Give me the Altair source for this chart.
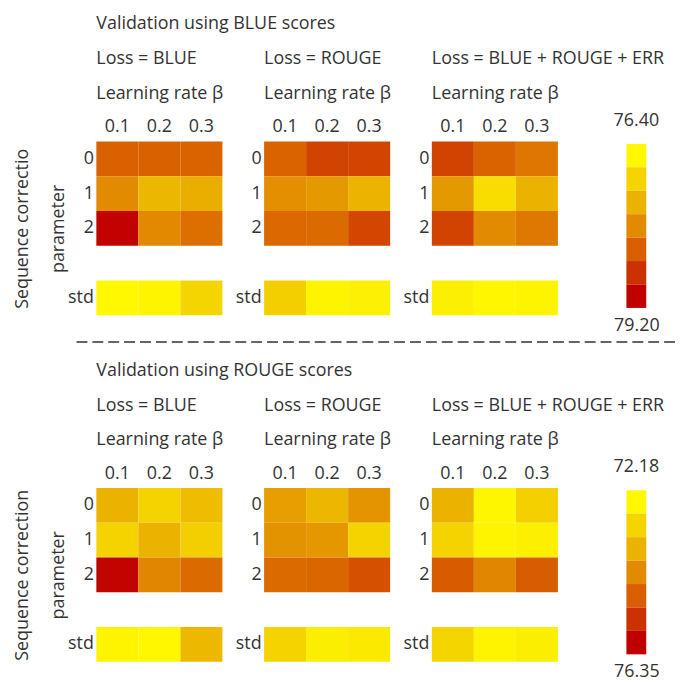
import altair as alt
import numpy as np
import pandas as pd

# ---------------- data ----------------
lr_values = ["0.1", "0.2", "0.3"]
row_values = ["0", "1", "2", "std"]
y_domain = ["0", "1", "2", " ", "std"]          # " " is the empty gap row
loss_titles = ["Loss = BLUE", "Loss = ROUGE", "Loss = BLUE + ROUGE + ERR"]
section_titles = ["Validation using BLUE scores", "Validation using ROUGE scores"]
y_titles = [["Sequence correctio", "parameter"], ["Sequence correction", "parameter"]]
scale_ends = [[76.40, 79.20], [72.18, 76.35]]
scale_labels = [["76.40", "79.20"], ["72.18", "76.35"]]
palette = ["#FFF800", "#F5D400", "#EBB200", "#E28B00", "#D95F00", "#CC3100", "#C00000"]

# Validation using BLUE scores (rows 0, 1, 2, std; columns lr 0.1, 0.2, 0.3)
blue_loss_blue = [[78.25, 78.25, 78.22], [77.80, 77.27, 77.38], [79.18, 77.82, 78.10], [76.40, 76.45, 76.85]]
blue_loss_rouge = [[78.22, 78.55, 78.53], [77.75, 77.63, 77.30], [78.17, 78.15, 78.52], [76.93, 76.45, 76.50]]
blue_loss_all = [[78.55, 78.22, 78.02], [77.63, 76.74, 77.33], [78.55, 77.80, 78.00], [76.52, 76.42, 76.45]]

# Validation using ROUGE scores
rouge_loss_blue = [[73.57, 72.89, 73.35], [72.89, 73.55, 73.00], [76.30, 74.35, 74.77], [72.25, 72.20, 73.45]]
rouge_loss_rouge = [[73.93, 73.47, 74.10], [74.12, 74.05, 72.90], [74.78, 74.85, 75.18], [72.89, 72.38, 72.45]]
rouge_loss_all = [[73.55, 72.22, 72.95], [72.89, 72.25, 72.35], [75.02, 74.35, 75.00], [72.85, 72.25, 72.38]]

sections = [
    [blue_loss_blue, blue_loss_rouge, blue_loss_all],
    [rouge_loss_blue, rouge_loss_rouge, rouge_loss_all],
]

FONT = "Open Sans"
TXT = "#333333"
FS = 18


def color_scale(sec):
    lo, hi = scale_ends[sec]
    return alt.Scale(type="linear", domain=list(np.linspace(lo, hi, len(palette))),
                     range=palette, interpolate="rgb")


def heat(sec, k):
    values = sections[sec][k]
    df = pd.DataFrame([
        {"row": r, "lr": lr, "value": values[i][j]}
        for i, r in enumerate(row_values) for j, lr in enumerate(lr_values)
    ])
    lines = [section_titles[sec] if k == 0 else " ", loss_titles[k], "Learning rate β"]
    yax = dict(orient="left", ticks=False, domain=False, labelPadding=3,
               labelFontSize=FS, labelColor=TXT, labelFont=FONT)
    if k == 0:
        yax.update(titleFontSize=FS, titleFont=FONT, titleFontWeight="normal",
                   titleColor=TXT, titleLineHeight=36, titlePadding=0)
        y_enc = alt.Y("row:N", scale=alt.Scale(domain=y_domain, paddingInner=0, paddingOuter=0),
                      axis=alt.Axis(**yax), title=y_titles[sec])
    else:
        y_enc = alt.Y("row:N", scale=alt.Scale(domain=y_domain, paddingInner=0, paddingOuter=0),
                      axis=alt.Axis(**yax), title=None)
    base = alt.Chart(df, title=alt.Title(
        lines, anchor="start", frame="group", fontSize=FS, font=FONT,
        fontWeight="normal", color=TXT, lineHeight=35, offset=15,
    )).mark_rect().encode(
        x=alt.X("lr:N", scale=alt.Scale(domain=lr_values, paddingInner=0, paddingOuter=0),
                axis=alt.Axis(orient="top", ticks=False, domain=False, labelAngle=0,
                              labelPadding=6, labelFontSize=FS, labelColor=TXT, labelFont=FONT),
                title=None),
        y=y_enc,
        color=alt.Color("value:Q", scale=color_scale(sec), legend=None),
    ).properties(width=127, height=175)
    if sec == 0 and k == 0:
        # dashed separator between the two sections
        dash = alt.Chart(pd.DataFrame({"d": [0]})).mark_rule(
            color="#333333", strokeWidth=1.5, strokeDash=[11, 5]
        ).encode(x=alt.value(-20), x2=alt.value(586), y=alt.value(202))
        return alt.layer(base, dash)
    return base


def colorbar(sec):
    lo, hi = scale_ends[sec]
    df = pd.DataFrame({"c": ["bar"] * len(palette),
                       "step": list(range(len(palette))),
                       "value": list(np.linspace(lo, hi, len(palette)))})
    return alt.Chart(df, title=alt.Title(
        scale_labels[sec][0], anchor="middle", frame="group", fontSize=FS, font=FONT,
        fontWeight="normal", color=TXT, offset=12,
    )).mark_rect().encode(
        x=alt.X("c:N", scale=alt.Scale(paddingInner=14 / 54, paddingOuter=1),
                axis=alt.Axis(orient="bottom", labels=False, ticks=False, domain=False,
                              titleFontSize=FS, titleFont=FONT, titleFontWeight="normal",
                              titleColor=TXT, titlePadding=6),
                title=scale_labels[sec][1]),
        y=alt.Y("step:O", scale=alt.Scale(paddingInner=0, paddingOuter=0.1), axis=None),
        color=alt.Color("value:Q", scale=color_scale(sec), legend=None),
    ).properties(width=74, height=170)


cells = []
for sec in range(2):
    for k in range(3):
        cells.append(heat(sec, k))
    cells.append(colorbar(sec))

chart = alt.concat(
    *cells, columns=4, spacing=alt.RowColnumber(row=174, column=42), bounds="flush"
).resolve_scale(
    color="independent", x="independent", y="independent"
).properties(
    padding={"left": 5, "top": 5, "right": 0, "bottom": 0}
).configure_view(stroke=None)

chart.save("out.html", embed_options={"renderer": "svg", "actions": False})
